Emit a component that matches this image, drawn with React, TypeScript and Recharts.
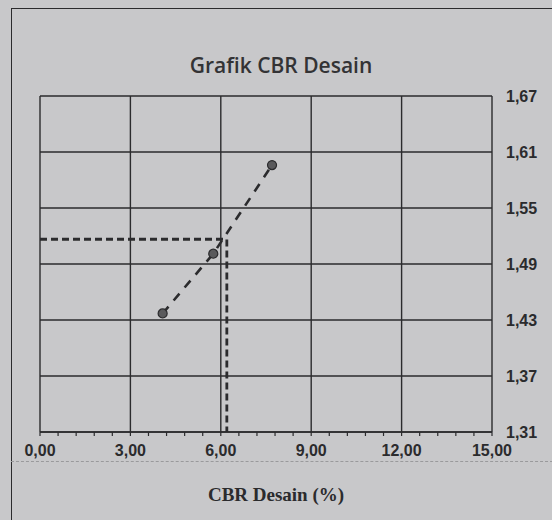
import {
  CartesianGrid,
  Scatter,
  ScatterChart,
  XAxis,
  YAxis,
} from "recharts";

// CBR desain vs kepadatan
const cbrValues = [4.07, 5.75, 7.7];
const densityValues = [1.437, 1.501, 1.596];

// garis bantu pembacaan CBR desain
const guideX = [0, 6.2, 6.2];
const guideY = [1.5165, 1.5165, 1.31];

const xTicks = [0, 3, 6, 9, 12, 15];
const xMinorTicks = [
  0, 0.6, 1.2, 1.8, 2.4, 3, 3.6, 4.2, 4.8, 5.4, 6, 6.6, 7.2, 7.8, 8.4, 9, 9.6, 10.2,
  10.8, 11.4, 12, 12.6, 13.2, 13.8, 14.4, 15,
];
const yTicks = [1.31, 1.37, 1.43, 1.49, 1.55, 1.61, 1.67];

const INK = "#2b2b2d";
const BG = "#c8c8ca";

const points = cbrValues.map((x, i) => ({ x, y: densityValues[i] }));
const guide = guideX.map((x, i) => ({ x, y: guideY[i] }));

const fmt = (v: number, digits: number) => v.toFixed(digits).replace(".", ",");
const isMajor = (v: number) => xTicks.some((t) => Math.abs(t - v) < 1e-6);

const tickFont = {
  fill: INK,
  fontSize: 16,
  fontWeight: 700,
  fontFamily: "'Liberation Sans', Arial, sans-serif",
};

export default function App() {
  return (
    <div
      style={{
        position: "fixed",
        top: 0,
        left: 0,
        width: 552,
        height: 520,
        background: BG,
        overflow: "hidden",
      }}
    >
      {/* bingkai luar */}
      <div
        style={{
          position: "absolute",
          left: 11,
          top: 8,
          width: 560,
          height: 540,
          borderLeft: `1.5px solid ${INK}`,
          borderTop: `1.5px solid ${INK}`,
        }}
      />
      <div
        style={{
          position: "absolute",
          left: 11,
          top: 461,
          width: 552,
          borderTop: "1px dashed #9a9a9c",
        }}
      />
      <div
        style={{
          position: "absolute",
          top: 50,
          left: 5,
          width: 552,
          textAlign: "center",
          fontFamily: "'Open Sans', sans-serif",
          fontWeight: 600,
          fontSize: 21,
          lineHeight: "30px",
          color: "#333335",
        }}
      >
        Grafik CBR Desain
      </div>
      <div
        style={{
          position: "absolute",
          top: 484,
          left: 0,
          width: 552,
          textAlign: "center",
          fontFamily: "'Liberation Serif', serif",
          fontWeight: 700,
          fontSize: 19,
          lineHeight: "22px",
          color: INK,
        }}
      >
        CBR Desain (%)
      </div>
      <div style={{ position: "absolute", left: 0, top: 0 }}>
        <ScatterChart width={552} height={520} margin={{ top: 96, right: 0, bottom: 86, left: 40 }}>
          <CartesianGrid
            stroke={INK}
            strokeWidth={1.4}
            verticalValues={xTicks}
            horizontalValues={yTicks}
          />
          <XAxis
            type="number"
            dataKey="x"
            domain={[0, 15]}
            ticks={xMinorTicks}
            interval={0}
            height={2}
            axisLine={{ stroke: INK, strokeWidth: 1.5 }}
            tickLine={{ stroke: INK, strokeWidth: 1.2 }}
            tickSize={4}
            tickMargin={9}
            tickFormatter={(v: number) => (isMajor(v) ? fmt(v, 2) : "")}
            tick={tickFont}
          />
          <YAxis
            type="number"
            dataKey="y"
            orientation="right"
            domain={[1.31, 1.67]}
            ticks={yTicks}
            interval={0}
            width={60}
            axisLine={false}
            tickLine={false}
            tickMargin={8}
            tickFormatter={(v: number) => fmt(v, 2)}
            tick={tickFont}
          />
          <Scatter
            data={guide}
            isAnimationActive={false}
            line={{ stroke: INK, strokeWidth: 2.8, strokeDasharray: "7 4" }}
            shape={() => <g />}
          />
          <Scatter
            data={points}
            isAnimationActive={false}
            line={{ stroke: INK, strokeWidth: 2.6, strokeDasharray: "9 8" }}
            fill="#5a5a5c"
            stroke={INK}
            strokeWidth={1.2}
            shape="circle"
          />
        </ScatterChart>
      </div>
    </div>
  );
}
